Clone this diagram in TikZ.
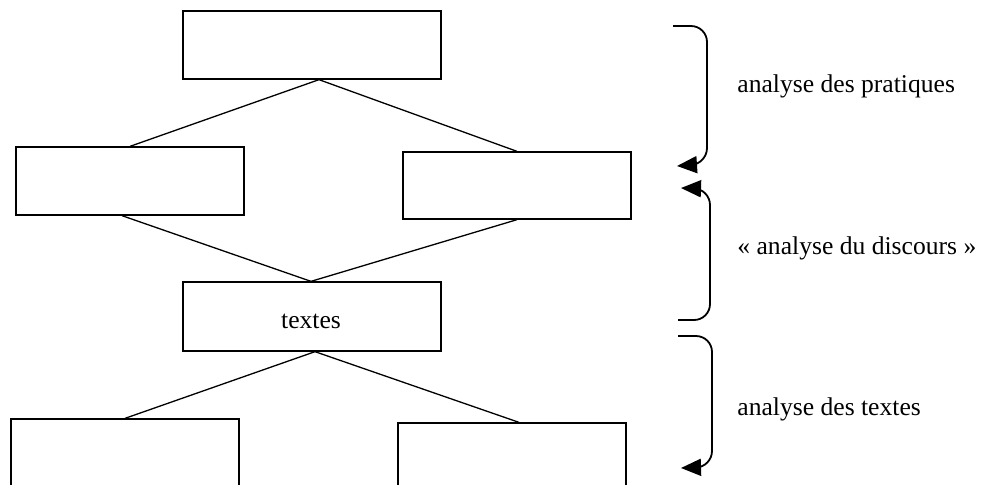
\documentclass[tikz,border=0pt]{standalone}
\usepackage{fontspec}
\setmainfont{Liberation Serif}
\usetikzlibrary{arrows.meta}
\begin{document}
\begin{tikzpicture}[x=0.5pt,y=-0.5pt,
  box/.style={draw,line width=0.65pt,inner sep=0pt,fill=white},
  link/.style={line width=0.65pt},
  brace/.style={line width=0.9pt,rounded corners=8pt,-{Triangle[length=10pt,width=8.5pt]}},
  lbl/.style={anchor=west,inner sep=0pt,font=\fontsize{12.8pt}{15pt}\selectfont}]
\useasboundingbox (0,0) rectangle (989,484);
\clip (0,0) rectangle (989,484);
% boxes
\node[box,minimum width=129pt,minimum height=34pt] (top) at (312,45) {};
\node[box,minimum width=114pt,minimum height=34pt] (l2) at (130,181) {};
\node[box,minimum width=114pt,minimum height=33.5pt] (r2) at (517,185.5) {};
\node[box,minimum width=129pt,minimum height=34.5pt] (tx) at (312,316.5) {};
\node[inner sep=0pt,font=\fontsize{12.8pt}{15pt}\selectfont] (txl) at (311,321) {textes};
\node[box,minimum width=114pt,minimum height=34pt] (l3) at (125,453) {};
\node[box,minimum width=114pt,minimum height=34pt] (r3) at (512,457) {};
% connectors
\draw[link] ([xshift=3.5pt]top.south) -- (l2.north);
\draw[link] ([xshift=3.5pt]top.south) -- (r2.north);
\draw[link] ([xshift=-4pt]l2.south) -- ([xshift=-0.5pt]tx.north);
\draw[link] (r2.south) -- ([xshift=-0.5pt]tx.north);
\draw[link] ([xshift=1.5pt]tx.south) -- (l3.north);
\draw[link] ([xshift=1.5pt]tx.south) -- ([xshift=3.5pt]r3.north);
% braces
\coordinate (b1s) at (673,26);
\coordinate (b1e) at (677,166);
\coordinate (b2s) at (678,320);
\coordinate (b2e) at (681,188);
\coordinate (b3s) at (678,336);
\coordinate (b3e) at (681,468);
\draw[brace] (b1s) -- (707,26) -- (707,164) -- (b1e);
\draw[brace] (b2s) -- (710,320) -- (710,189) -- (b2e);
\draw[brace] (b3s) -- (712,336) -- (712,467) -- (b3e);
% labels
\node[lbl] (t1) at (737,86) {analyse des pratiques};
\node[lbl] (t2) at (737,248) {« analyse du discours »};
\node[lbl] (t3) at (737,409) {analyse des textes};
\end{tikzpicture}
\end{document}
